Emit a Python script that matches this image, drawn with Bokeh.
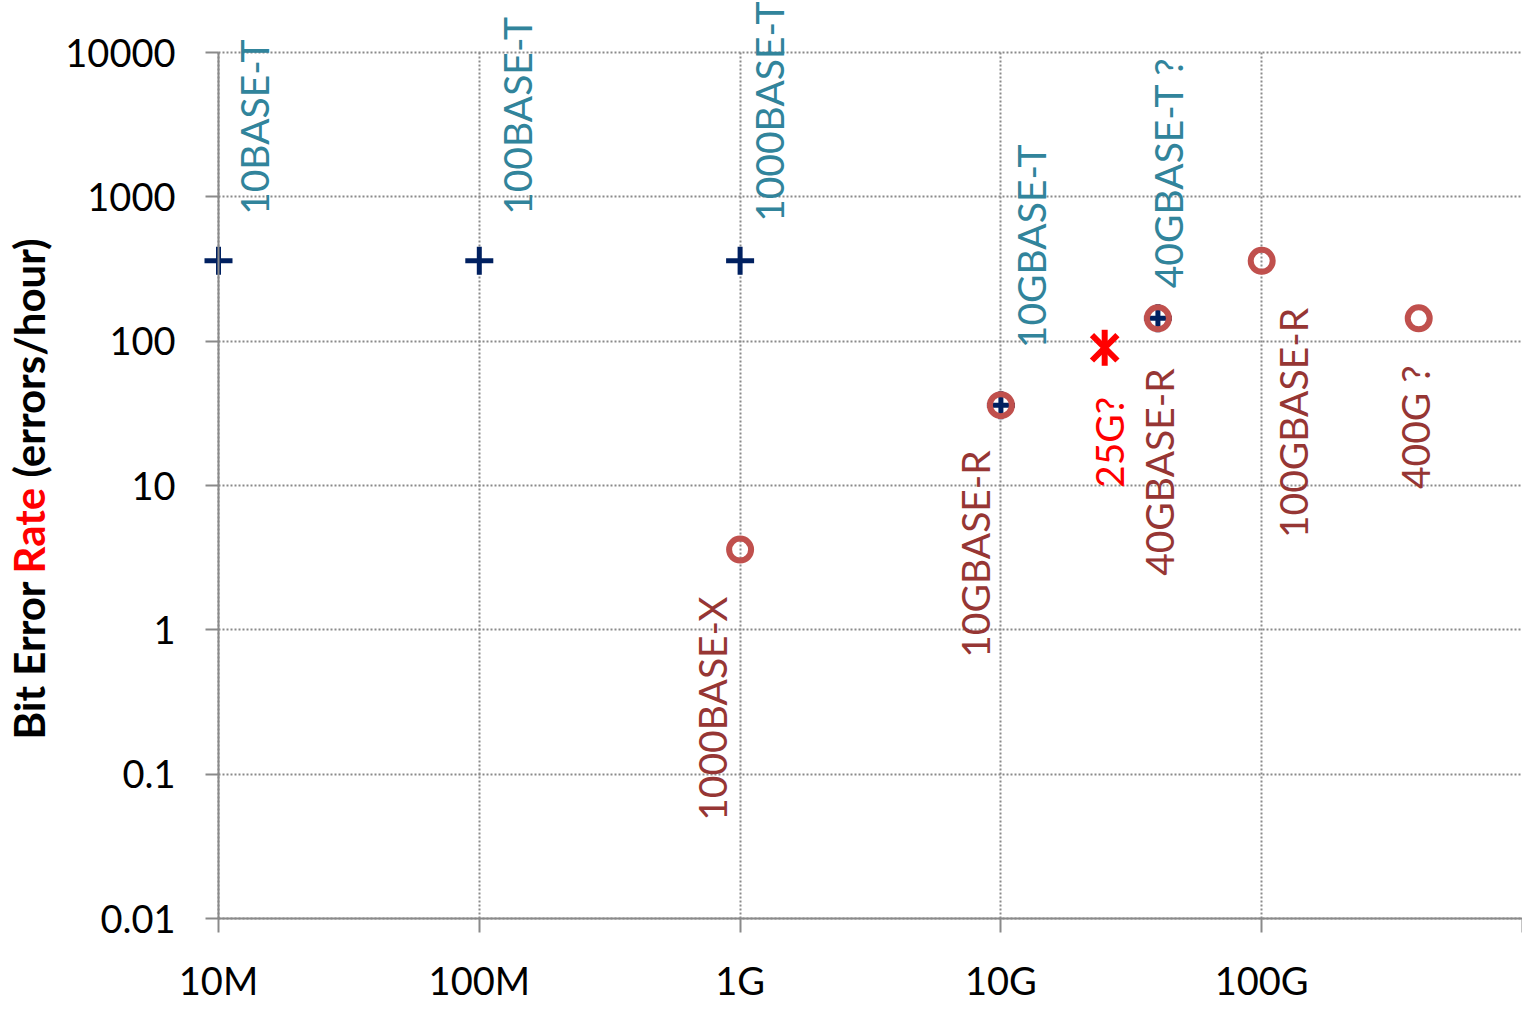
import math
from bokeh.plotting import figure
from bokeh.models import Range1d, FixedTicker, Label
from bokeh.embed import file_html
from bokeh.resources import INLINE

# ---------------- data ----------------
# data rate (bit/s) and bit errors per hour
plus_rate = [10e6, 100e6, 1e9, 10e9, 40e9]
plus_errs = [360, 360, 360, 36, 144]
plus_names = ["10BASE-T", "100BASE-T", "1000BASE-T", "10GBASE-T", "40GBASE-T ?"]

circ_rate = [1e9, 10e9, 40e9, 100e9, 400e9]
circ_errs = [3.6, 36, 144, 360, 144]
circ_names = ["1000BASE-X", "10GBASE-R", "40GBASE-R", "100GBASE-R", "400G ?"]

star_rate = [25e9]
star_errs = [90]
star_names = ["25G?"]

x_ticks = [1e7, 1e8, 1e9, 1e10, 1e11, 1e12]
x_tick_labels = ["10M", "100M", "1G", "10G", "100G", ""]
y_ticks = [0.01, 0.1, 1, 10, 100, 1000, 10000]
y_tick_labels = ["0.01", "0.1", "1", "10", "100", "1000", "10000"]

title_parts = ["Bit Error", "Rate", "(errors/hour)"]

# ---------------- styles / layout ----------------
TEAL = "#31849B"
BROWN = "#963634"
CIRC = "#C0504D"
NAVY = "#002060"
RED = "#FF0000"
GRID = "#8a8a8a"
FONT = "Lato"

# label offsets in screen px (dx right, dy up for plus labels / down for circle labels)
plus_dx = [35, 38, 29, 30, 10]
plus_up = [46, 46, 39, 57, 30]
circ_dx = [-28, -26, 1, 31, -4]
circ_down = [47, 45, 50, 47, 47]
star_dx = [4]
star_down = [49]

W, H = 1522, 1009
# plot area in page pixels
PL, PR, PT, PB = 218, 1522, 52, 918
XA, XB = 1e7, 1e12
YA, YB = 0.01, 10000
dec_x = (PR - PL) / math.log10(XB / XA)
dec_y = (PB - PT) / math.log10(YB / YA)

def px_to_x(px):
    return 10 ** (math.log10(XA) + (px - PL) / dec_x)

def py_to_y(py):
    return 10 ** (math.log10(YB) - (py - PT) / dec_y)

p = figure(width=W, height=H, x_axis_type="log", y_axis_type="log",
           x_range=Range1d(px_to_x(0), px_to_x(W)),
           y_range=Range1d(py_to_y(H), py_to_y(0)),
           output_backend="svg", toolbar_location=None,
           min_border_left=0, min_border_right=0,
           min_border_top=0, min_border_bottom=0)
p.outline_line_color = None
p.background_fill_color = "white"

p.xaxis.fixed_location = YA
p.xaxis.bounds = (XA, XB)
p.yaxis.fixed_location = XA
p.yaxis.bounds = (YA, YB)

for ax, ticks, labs, out in ((p.xaxis, x_ticks, x_tick_labels, 14), (p.yaxis, y_ticks, y_tick_labels, 13)):
    ax.ticker = FixedTicker(ticks=ticks, minor_ticks=[])
    ax.major_label_overrides = {t: l for t, l in zip(ticks, labs)}
    ax.axis_line_color = GRID
    ax.axis_line_width = 2
    ax.major_tick_line_color = GRID
    ax.major_tick_line_width = 2
    ax.major_tick_out = out
    ax.major_tick_in = 0
    ax.minor_tick_line_color = None
    ax.major_label_text_font = FONT
    ax.major_label_text_font_size = "38px"
    ax.major_label_text_color = "black"
p.yaxis.major_label_standoff = 30
p.xaxis.major_label_standoff = 24

for g in (p.xgrid, p.ygrid):
    g.grid_line_color = GRID
    g.grid_line_width = 2
    g.grid_line_dash = "2 2"
p.xgrid.cross_bounds = (YA, YB)
p.ygrid.cross_bounds = (XA, XB)

# markers
p.scatter(plus_rate, plus_errs, marker="cross", size=28, line_width=5, line_color=NAVY)
p.scatter(circ_rate, circ_errs, marker="circle", size=22, line_width=6,
          line_color=CIRC, fill_alpha=0)
p.scatter(star_rate, star_errs, marker="x", size=36, line_width=6, line_color=RED)
p.scatter(star_rate, star_errs, marker="dash", size=36, angle=math.pi / 2,
          line_width=6, line_color=RED)

# data labels
def add_labels(xs, ys, names, dxs, dys, color, up):
    for x, y, t, dx, dy in zip(xs, ys, names, dxs, dys):
        p.add_layout(Label(x=x, y=y, text=t, x_offset=dx, y_offset=dy if up else -dy,
                           angle=math.pi / 2, text_align="left" if up else "right",
                           text_baseline="middle", text_font=FONT,
                           text_font_size="39px", text_color=color))

add_labels(plus_rate, plus_errs, plus_names, plus_dx, plus_up, TEAL, True)
add_labels(circ_rate, circ_errs, circ_names, circ_dx, circ_down, BROWN, False)
add_labels(star_rate, star_errs, star_names, star_dx, star_down, RED, False)

# y axis title (three coloured parts)
title_py = [739, 573, 477]
title_col = ["black", RED, "black"]
for t, py, c in zip(title_parts, title_py, title_col):
    p.add_layout(Label(x=px_to_x(28), y=py_to_y(py), text=t, angle=math.pi / 2,
                       text_align="left", text_baseline="middle", text_font=FONT,
                       text_font_style="bold", text_font_size="42px", text_color=c))

open("out.html", "w").write(file_html(p, INLINE))
